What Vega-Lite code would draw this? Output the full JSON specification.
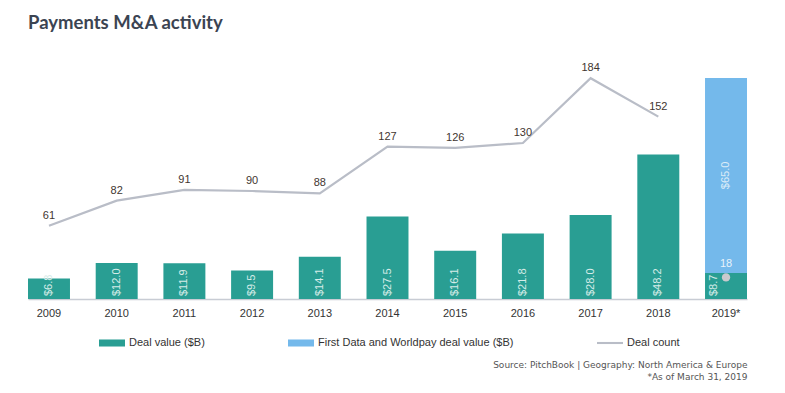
{
  "$schema": "https://vega.github.io/schema/vega-lite/v6.json",
  "autosize": "none",
  "width": 719,
  "height": 240,
  "padding": {"left": 28, "top": 59, "right": 38, "bottom": 94},
  "background": "white",
  "title": {"text": "Payments M&A activity", "anchor": "start", "frame": "group", "offset": 12, "baseline": "alphabetic", "font": "Lato", "fontSize": 18.5, "fontWeight": "bold", "color": "#3b4452"},
  "datasets": {
    "bars": [
      {"year": "2009", "series": "Deal value ($B)", "value": 6.8},
      {"year": "2010", "series": "Deal value ($B)", "value": 12.0},
      {"year": "2011", "series": "Deal value ($B)", "value": 11.9},
      {"year": "2012", "series": "Deal value ($B)", "value": 9.5},
      {"year": "2013", "series": "Deal value ($B)", "value": 14.1},
      {"year": "2014", "series": "Deal value ($B)", "value": 27.5},
      {"year": "2015", "series": "Deal value ($B)", "value": 16.1},
      {"year": "2016", "series": "Deal value ($B)", "value": 21.8},
      {"year": "2017", "series": "Deal value ($B)", "value": 28.0},
      {"year": "2018", "series": "Deal value ($B)", "value": 48.2},
      {"year": "2019*", "series": "Deal value ($B)", "value": 8.7},
      {"year": "2019*", "series": "First Data and Worldpay deal value ($B)", "value": 65.0}
    ],
    "counts": [
      {"year": "2009", "count": 61},
      {"year": "2010", "count": 82},
      {"year": "2011", "count": 91},
      {"year": "2012", "count": 90},
      {"year": "2013", "count": 88},
      {"year": "2014", "count": 127},
      {"year": "2015", "count": 126},
      {"year": "2016", "count": 130},
      {"year": "2017", "count": 184},
      {"year": "2018", "count": 152},
      {"year": "2019*", "count": 18}
    ]
  },
  "encoding": {
    "x": {
      "field": "year", "type": "ordinal",
      "scale": {"paddingInner": 0.38, "paddingOuter": 0},
      "axis": {
        "title": ["Source: PitchBook | Geography: North America & Europe", "*As of March 31, 2019"],
        "titleAnchor": "end", "titleAlign": "right", "titleFont": "DejaVu Sans", "titleFontSize": 9,
        "titleFontWeight": "normal", "titleColor": "#555555", "titlePadding": 42, "titleLineHeight": 12,
        "labelAngle": 0, "ticks": false, "labelPadding": 8, "labelFont": "Liberation Sans", "labelFontSize": 11,
        "labelColor": "#333333", "domainColor": "#c8ccd4", "domainWidth": 1.5, "grid": false
      }
    }
  },
  "layer": [
    {
      "data": {"name": "bars"},
      "encoding": {
        "y": {"type": "quantitative", "scale": {"domain": [0, 80]}, "axis": null}
      },
      "layer": [
        {
          "mark": {"type": "bar"},
          "encoding": {
            "y": {"field": "value", "type": "quantitative", "stack": "zero"},
            "order": {"field": "series", "sort": "ascending"},
            "color": {
              "field": "series", "type": "nominal",
              "scale": {"domain": ["Deal value ($B)", "First Data and Worldpay deal value ($B)", "Deal count"], "range": ["#299e93", "#74b9eb", "#b9bdc7"]},
              "legend": {
                "orient": "none", "legendX": 71, "legendY": 271, "direction": "horizontal", "title": null,
                "padding": 0, "symbolSize": 676, "symbolType": "M-1,-0.27H1V0.27H-1Z", "symbolStrokeWidth": 0,
                "labelFont": "Liberation Sans", "labelFontSize": 11, "labelColor": "#333333", "labelOffset": 4,
                "labelLimit": 400, "columnPadding": 83,
                "encode": {
                  "symbols": {
                    "update": {
                      "shape": [{"test": "datum.value === 'Deal count'", "value": "M-1,-0.08H1V0.08H-1Z"}, {"value": "M-1,-0.27H1V0.27H-1Z"}],
                      "fill": {"scale": "color", "field": "value"},
                      "fillOpacity": {"value": 1},
                      "stroke": {"value": "transparent"}
                    }
                  }
                }
              }
            }
          }
        },
        {
          "transform": [{"filter": "datum.series === 'Deal value ($B)' && datum.year !== '2019*'"}],
          "mark": {"type": "text", "angle": 270, "align": "left", "baseline": "middle", "dx": 3, "font": "Liberation Sans", "fontSize": 11, "color": "#d6ece8"},
          "encoding": {
            "y": {"datum": 0, "type": "quantitative"},
            "text": {"field": "value", "type": "quantitative", "format": "$.1f"}
          }
        },
        {
          "transform": [{"filter": "datum.series === 'Deal value ($B)' && datum.year === '2019*'"}],
          "mark": {"type": "text", "angle": 270, "align": "left", "baseline": "middle", "dx": 3, "dy": -12, "font": "Liberation Sans", "fontSize": 11, "color": "#d6ece8"},
          "encoding": {
            "y": {"datum": 0, "type": "quantitative"},
            "text": {"field": "value", "type": "quantitative", "format": "$.1f"}
          }
        },
        {
          "transform": [
            {"stack": "value", "groupby": ["year"], "sort": [{"field": "series"}], "as": ["v0", "v1"]},
            {"calculate": "(datum.v0 + datum.v1) / 2", "as": "mid"},
            {"filter": "datum.series === 'First Data and Worldpay deal value ($B)'"}
          ],
          "mark": {"type": "text", "angle": 270, "align": "center", "baseline": "middle", "font": "Liberation Sans", "fontSize": 11, "color": "#dcecf8"},
          "encoding": {
            "y": {"field": "mid", "type": "quantitative"},
            "text": {"field": "value", "type": "quantitative", "format": "$.1f"}
          }
        }
      ]
    },
    {
      "data": {"name": "counts"},
      "encoding": {
        "y": {"field": "count", "type": "quantitative", "scale": {"domain": [0, 200]}, "axis": null}
      },
      "layer": [
        {
          "transform": [{"filter": "datum.year !== '2019*'"}],
          "mark": {"type": "line", "strokeWidth": 2.2},
          "encoding": {
            "color": {"datum": "Deal count", "type": "nominal"}
          }
        },
        {
          "transform": [{"filter": "datum.year !== '2019*'"}],
          "mark": {"type": "text", "dy": -10, "baseline": "middle", "font": "Liberation Sans", "fontSize": 11, "color": "#3f3631"},
          "encoding": {
            "text": {"field": "count", "type": "quantitative", "format": "d"}
          }
        },
        {
          "transform": [{"filter": "datum.year === '2019*'"}],
          "mark": {"type": "point", "filled": true, "size": 70, "color": "#c9c9cd", "opacity": 1},
          "encoding": {}
        },
        {
          "transform": [{"filter": "datum.year === '2019*'"}],
          "mark": {"type": "text", "dy": -13, "baseline": "middle", "font": "Liberation Sans", "fontSize": 11, "color": "#e8f3fb"},
          "encoding": {
            "text": {"field": "count", "type": "quantitative", "format": "d"}
          }
        }
      ]
    }
  ],
  "resolve": {"scale": {"y": "independent"}},
  "config": {
    "view": {"stroke": null},
    "font": "Liberation Sans"
  }
}
